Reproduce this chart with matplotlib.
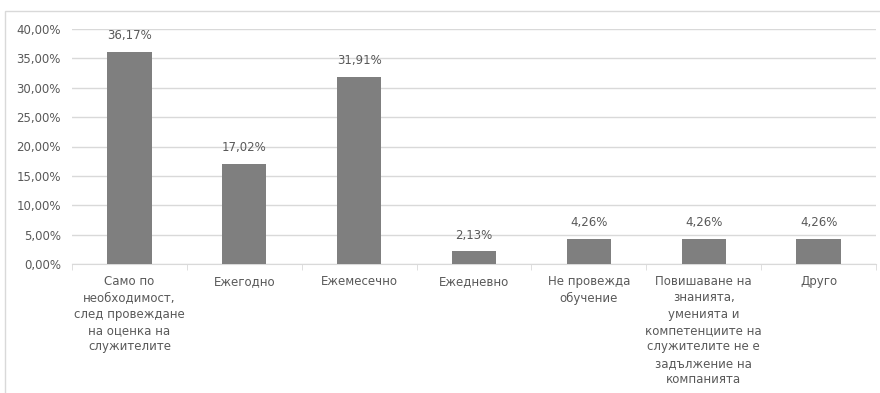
import matplotlib.pyplot as plt
from matplotlib.patches import Rectangle
from matplotlib.ticker import FuncFormatter, MultipleLocator

# ------------------------------------------------------------
# DATA
# ------------------------------------------------------------

categories = [
    "Само по\nнеобходимост,\nслед провеждане\nна оценка на\nслужителите",
    "Ежегодно",
    "Ежемесечно",
    "Ежедневно",
    "Не провежда\nобучение",
    "Повишаване на\nзнанията,\nуменията и\nкомпетенциите на\nслужителите не е\nзадължение на\nкомпанията",
    "Друго",
]
values = [36.17, 17.02, 31.91, 2.13, 4.26, 4.26, 4.26]

# ------------------------------------------------------------
# STYLE
# ------------------------------------------------------------

TEXT = '#595959'
GRID = '#d9d9d9'
BAR = '#7f7f7f'

plt.rcParams['font.family'] = ['DejaVu Sans']
plt.rcParams['font.size'] = 8.5

fig = plt.figure(figsize=(8.8, 3.93), dpi=100)

# chart border (cropped at right and bottom)
fig.patches.append(Rectangle((5 / 880, -0.1), 2, 1.1 - 11 / 393,
                             transform=fig.transFigure, fill=False,
                             edgecolor=GRID, linewidth=1))

ax = fig.add_axes([72 / 880, 1 - 264 / 393, (876 - 72) / 880, (264 - 29) / 393])

x = range(len(categories))
ax.bar(x, values, width=0.385, color=BAR, zorder=3)

for xi, v in zip(x, values):
    ax.annotate(f"{v:.2f}%".replace('.', ','), (xi, v), xytext=(0, 7),
                textcoords='offset points', ha='center', va='bottom',
                color=TEXT)

ax.set_xlim(-0.5, len(categories) - 0.5)
ax.set_ylim(0, 40)
ax.yaxis.set_major_locator(MultipleLocator(5))
ax.yaxis.set_major_formatter(FuncFormatter(lambda v, p: f"{v:.2f}%".replace('.', ',')))
ax.grid(axis='y', color=GRID, linewidth=1, zorder=0)

ax.set_xticks(list(x))
ax.set_xticklabels(categories, linespacing=1.33, va='top')
ax.tick_params(axis='x', length=0, pad=8, colors=TEXT)
ax.tick_params(axis='y', length=0, pad=8, colors=TEXT)

# tick marks between categories
ax.set_xticks([i - 0.5 for i in range(len(categories) + 1)], minor=True)
ax.tick_params(axis='x', which='minor', length=4, color=GRID)

for s in ['top', 'right', 'left']:
    ax.spines[s].set_visible(False)
ax.spines['bottom'].set_color(GRID)

fig.savefig('out.png', dpi=100)
